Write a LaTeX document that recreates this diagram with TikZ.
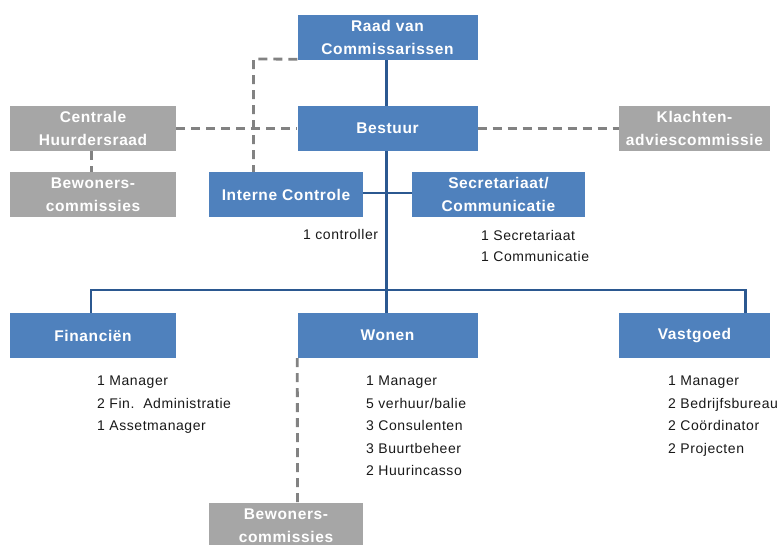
\documentclass[tikz,border=0pt]{standalone}
\usepackage{fontspec}
\setmainfont{Liberation Sans}[LetterSpace=4]
\definecolor{boxblue}{HTML}{4F81BD}
\definecolor{lineblue}{HTML}{2B5890}
\definecolor{boxgray}{HTML}{A6A6A6}
\definecolor{dashgray}{HTML}{828282}
\tikzset{
  bluebox/.style={fill=boxblue, text=white, inner sep=0pt, align=center,
    font=\bfseries\fontsize{15.5}{23}\selectfont},
  graybox/.style={fill=boxgray, text=white, inner sep=0pt, align=center,
    font=\bfseries\fontsize{15.5}{23}\selectfont},
  solidline/.style={draw=lineblue, line width=2.6pt},
  dashline/.style={draw=dashgray, line width=2.8pt, dash pattern=on 9pt off 6pt},
  item/.style={anchor=base west, inner sep=0pt, font=\fontsize{14}{16}\selectfont, text=black!90}
}
\begin{document}
\begin{tikzpicture}[x=1pt,y=-1pt]
\useasboundingbox (0,0) rectangle (779,545);
\clip (0,0) rectangle (779,545);
\fill[white] (0,0) rectangle (779,545);
% boxes
\node[bluebox, minimum width=180pt, minimum height=45pt] (raad) at (387.5,37.5) {Raad van\\Commissarissen};
\node[bluebox, minimum width=180pt, minimum height=45pt] (bestuur) at (387.5,128.5) {Bestuur};
\node[graybox, minimum width=166pt, minimum height=45pt] (chr) at (93,128.5) {Centrale\\Huurdersraad};
\node[graybox, minimum width=166pt, minimum height=45pt] (bew1) at (93,194.5) {Bewoners-\\commissies};
\node[bluebox, minimum width=154pt, minimum height=45pt] (ic) at (286,194.5) {Interne Controle};
\node[bluebox, minimum width=173pt, minimum height=45pt] (sec) at (498.5,194.5) {Secretariaat/\\Communicatie};
\node[graybox, minimum width=151pt, minimum height=45pt] (kl) at (694.5,128.5) {Klachten-\\adviescommissie};
\node[bluebox, minimum width=166pt, minimum height=45pt] (fin) at (93,335.5) {Financiën};
\node[bluebox, minimum width=180pt, minimum height=45pt] (won) at (387.5,335.5) {Wonen};
\node[bluebox, minimum width=151pt, minimum height=45pt] (vas) at (694.5,335.5) {Vastgoed};
\node[graybox, minimum width=154pt, minimum height=45pt] (bew2) at (286,525.5) {Bewoners-\\commissies};
% coordinates
\coordinate (bus) at (386.5,290);
\coordinate (j1) at (386.5,193);
% solid lines
\draw[solidline] ([xshift=-1pt]raad.south) -- ([xshift=-1pt]bestuur.north);
\draw[solidline] ([xshift=-1pt]bestuur.south) -- (bus);
\draw[solidline] (ic.east |- j1) -- (sec.west |- j1);
\draw[solidline] (fin.north -| 91,0) -- (91,290) -- (745.5,290) -- (vas.north -| 745.5,0);
\draw[solidline] (bus) -- (won.north -| bus);
% dashed lines
\draw[dashline] (raad.south west) ++(0,-1) -- (253.5,59) -- (ic.north -| 253.5,0);
\draw[dashline] (chr.east) -- (bestuur.west);
\draw[dashline] (bestuur.east) -- (kl.west);
\draw[dashline] (chr.south -| 91.5,0) -- (bew1.north -| 91.5,0);
\draw[dashline] (won.south west) -- (bew2.north -| 297.5,0);
% lists
\node[item] (ctl) at (303,239.5) {1 controller};
\node[item] (s1) at (481,241) {1 Secretariaat};
\node[item] (s2) at (481,262) {1 Communicatie};
\node[item] (f1) at (97,385.5) {1 Manager};
\node[item] (f2) at (97,408) {2 Fin.\ \ Administratie};
\node[item] (f3) at (97,430.5) {1 Assetmanager};
\node[item] (w1) at (366,385.5) {1 Manager};
\node[item] (w2) at (366,408) {5 verhuur/balie};
\node[item] (w3) at (366,430.5) {3 Consulenten};
\node[item] (w4) at (366,453) {3 Buurtbeheer};
\node[item] (w5) at (366,475.5) {2 Huurincasso};
\node[item] (v1) at (668,385.5) {1 Manager};
\node[item] (v2) at (668,408) {2 Bedrijfsbureau};
\node[item] (v3) at (668,430.5) {2 Coördinator};
\node[item] (v4) at (668,453) {2 Projecten};
\end{tikzpicture}
\end{document}
